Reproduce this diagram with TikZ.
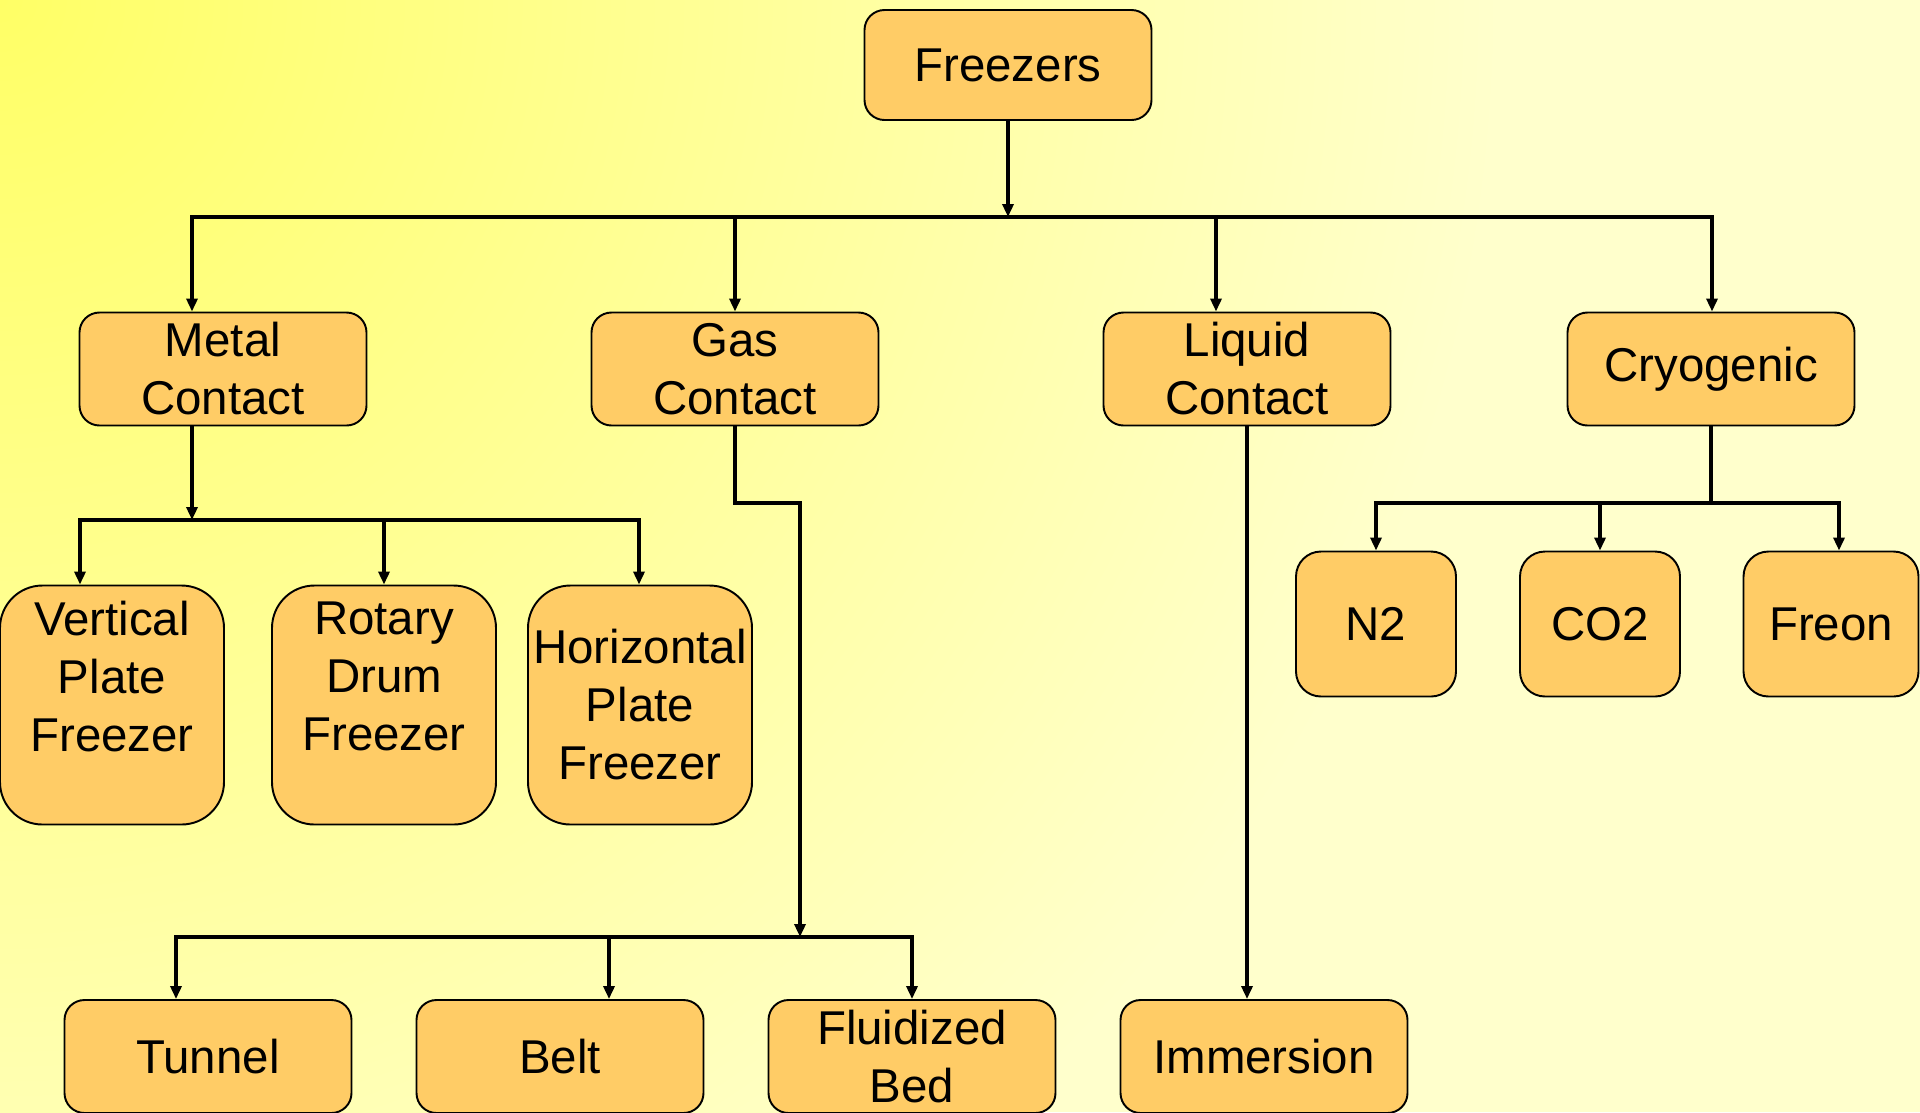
\documentclass[tikz,border=0pt]{standalone}
\usepackage{fontspec}
\setmainfont{Liberation Sans}
\usetikzlibrary{arrows.meta}
\definecolor{boxfill}{RGB}{255,204,102}
\definecolor{bgpale}{RGB}{255,255,204}
\definecolor{bgyellow}{RGB}{255,255,102}

\begin{document}
\begin{tikzpicture}[
  box/.style={rectangle, draw, line width=1.1pt, rounded corners=0.4cm, fill=boxfill,
    minimum width=5.74cm, minimum height=2.26cm, inner sep=0pt, align=center,
    font=\fontsize{27}{33}\selectfont},
  tallbox/.style={box, rounded corners=0.85cm, minimum width=4.48cm, minimum height=4.78cm},
  gasbox/.style={box, rounded corners=0.5cm, minimum width=3.2cm, minimum height=2.9cm},
  wire/.style={line width=2.2pt},
  rail/.style={line width=2.6pt, line cap=rect},
  feed/.style={wire, -{Triangle[length=0.26cm,width=0.22cm]}}
]
\useasboundingbox (0,0) rectangle (38.4,-22.24);
\fill[bgpale] (0,0) rectangle (38.4,-22.24);
\begin{scope}
  \clip (0,0) rectangle (38.4,-22.24);
  \shade[inner color=bgyellow, outer color=bgpale] (0,0) circle (30cm);
\end{scope}

% boxes
\node[box, minimum height=2.2cm] (freezers) at (20.16,-1.3) {Freezers};

\node[box] (metal) at (4.46,-7.38) {Metal\\Contact};
\node[box, right of=metal, node distance=10.24cm] (gas) {Gas\\Contact};
\node[box, right of=gas, node distance=10.24cm] (liquid) {Liquid\\Contact};
\node[box, right of=liquid, node distance=9.28cm] (cryo) {Cryogenic};

\node[tallbox] (vplate) at (2.24,-14.10) {Vertical\\Plate\\Freezer\\\mbox{}};
\node[tallbox, right of=vplate, node distance=5.44cm] (rdrum) {Rotary\\Drum\\Freezer\\\mbox{}};
\node[tallbox, right of=rdrum, node distance=5.12cm] (hplate) {Horizontal\\Plate\\Freezer};

\node[gasbox] (n2) at (27.52,-12.48) {N2};
\node[gasbox, right of=n2, node distance=4.48cm] (co2) {CO2};
\node[gasbox, right of=co2, node distance=4.62cm, minimum width=3.5cm] (freon) {Freon};

\node[box] (tunnel) at (4.16,-21.13) {Tunnel};
\node[box, right of=tunnel, node distance=7.04cm] (belt) {Belt};
\node[box, right of=belt, node distance=7.04cm] (fluid) {Fluidized\\Bed};
\node[box, right of=fluid, node distance=7.04cm] (immer) {Immersion};

% top level
\coordinate (tl) at (3.84,-4.34);
\coordinate (tr) at (34.24,-4.34);
\coordinate (tq) at (24.32,-4.34);
\draw[feed] (freezers) -- (freezers |- tl);
\draw[rail] (tl) -- (tr);
\draw[feed] (tl) -- (tl |- metal.north);
\draw[feed] (gas |- tl) -- (gas.north);
\draw[feed] (tq) -- (tq |- liquid.north);
\draw[feed] (tr) -- (tr |- cryo.north);

% metal contact
\coordinate (ml) at (1.60,-10.40);
\coordinate (mr) at (12.78,-10.40);
\draw[feed] (tl |- metal.south) -- (tl |- ml);
\draw[rail] (ml) -- (mr);
\draw[feed] (ml) -- (ml |- vplate.north);
\draw[feed] (rdrum |- ml) -- (rdrum.north);
\draw[feed] (mr) -- (mr |- hplate.north);

% gas contact
\coordinate (gk) at (16.00,-10.06);
\coordinate (gl) at (3.52,-18.74);
\coordinate (gb) at (12.18,-18.74);
\coordinate (gr) at (18.24,-18.74);
\draw[feed] (gas.south) |- (gk) -- (gk |- gl);
\draw[rail] (gl) -- (gr);
\draw[feed] (gl) -- (gl |- tunnel.north);
\draw[feed] (gb) -- (gb |- belt.north);
\draw[feed] (gr) -- (gr |- fluid.north);

% liquid contact
\draw[feed] (liquid.south) -- (liquid.south |- immer.north);

% cryogenic
\coordinate (cl) at (27.52,-10.06);
\coordinate (cr) at (36.78,-10.06);
\draw[wire] (cryo.south) -- (cryo.south |- cl);
\draw[rail] (cl) -- (cr);
\draw[feed] (cl) -- (cl |- n2.north);
\draw[feed] (co2 |- cl) -- (co2.north);
\draw[feed] (cr) -- (cr |- freon.north);
\end{tikzpicture}
\end{document}
